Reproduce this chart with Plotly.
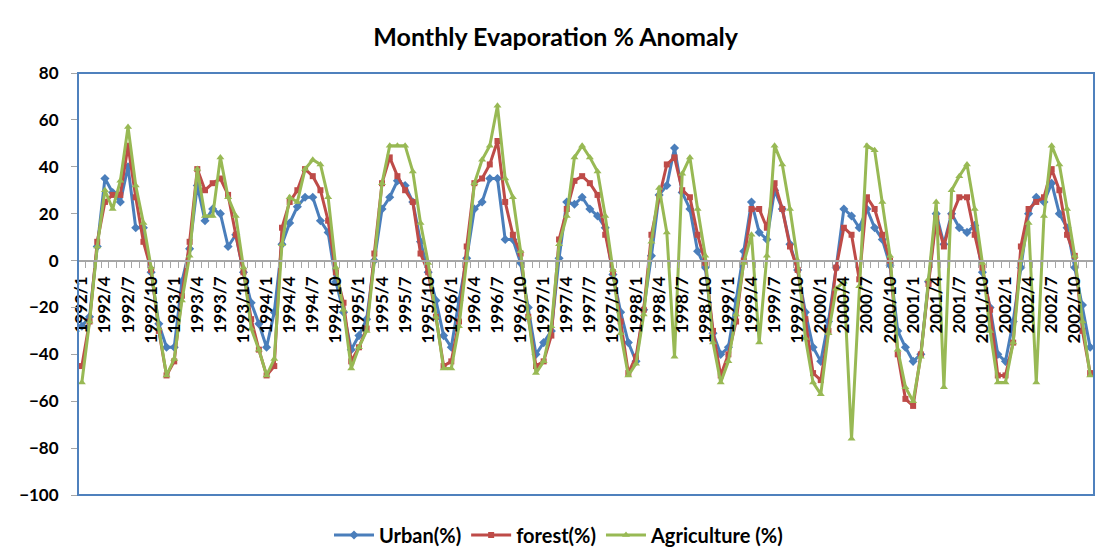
import plotly.graph_objects as go

years = list(range(1992, 2003))
months = [f"{y}/{m}" for y in years for m in range(1, 13)]

urban = [
    -28, -24, 6, 35, 29, 25, 40, 14, 14, -5, -27, -37,
    -37, -9, 5, 32, 17, 22, 20, 6, 11, -5, -18, -27,
    -37, -22, 7, 16, 23, 27, 27, 17, 12, -9, -22, -38,
    -32, -25, 0, 22, 27, 34, 32, 25, 8, -5, -17, -32,
    -37, -17, 1, 22, 25, 35, 35, 9, 9, -1, -20, -40,
    -35, -30, 1, 25, 24, 27, 22, 19, 14, -6, -22, -35,
    -43, -21, 2, 28, 32, 48, 29, 22, 4, -3, -31, -40,
    -37, -17, 4, 25, 12, 9, 30, 22, 7, -4, -22, -37,
    -43, -26, -3, 22, 19, 14, 22, 14, 9, -2, -30, -37,
    -43, -40, -9, 20, 7, 20, 14, 12, 15, -5, -20, -40,
    -43, -26, -3, 20, 27, 25, 33, 20, 14, -3, -19, -37,
]
forest = [
    -45, -26, 8, 25, 28, 28, 49, 27, 8, -4, -30, -49,
    -43, -15, 8, 39, 30, 33, 35, 28, 11, -5, -25, -38,
    -49, -45, 14, 25, 30, 39, 36, 30, 17, -5, -18, -43,
    -37, -29, 3, 33, 44, 36, 30, 25, 3, -5, -24, -45,
    -43, -26, 6, 33, 35, 41, 51, 25, 11, 3, -24, -45,
    -43, -32, 9, 22, 34, 36, 33, 28, 11, -5, -26, -48,
    -41, -21, 11, 27, 41, 44, 30, 27, 11, -1, -30, -49,
    -40, -26, 0, 22, 22, 14, 33, 22, 6, -4, -25, -48,
    -51, -30, -3, 14, 11, -8, 27, 22, 11, 0, -40, -59,
    -62, -40, -10, 18, 6, 19, 27, 27, 11, -3, -21, -49,
    -49, -35, 6, 22, 25, 27, 39, 30, 11, 2, -30, -48,
]
agriculture = [
    -52, -26, 6, 30, 22, 34, 57, 32, 16, -3, -29, -49,
    -42, -17, 2, 39, 19, 19, 44, 27, 19, -3, -29, -38,
    -49, -42, 7, 27, 25, 39, 43, 41, 27, -3, -21, -46,
    -37, -30, 0, 33, 49, 49, 49, 38, 16, -1, -24, -46,
    -46, -28, 0, 33, 43, 49, 66, 35, 27, 4, -24, -48,
    -43, -28, 7, 19, 44, 49, 44, 38, 19, -4, -31, -49,
    -44, -23, 8, 31, 12, -41, 37, 44, 22, 2, -35, -52,
    -43, -23, -1, 11, -35, 2, 49, 41, 22, 0, -33, -52,
    -57, -31, -12, -9, -76, -11, 49, 47, 25, 2, -38, -54,
    -60, -41, -8, 25, -54, 30, 36, 41, 22, -1, -30, -52,
    -52, -35, 0, 16, -52, 19, 49, 41, 22, 2, -26, -49,
]

y_ticks = list(range(-100, 81, 20))
series = [
    ("Urban(%)", urban, "#4A7EBB", "diamond", 7),
    ("forest(%)", forest, "#BE4B48", "square", 6),
    ("Agriculture (%)", agriculture, "#98B954", "triangle-up", 7),
]

FONT = "Lato, Open Sans, sans-serif"
idx = list(range(len(months)))

fig = go.Figure()
for name, vals, color, sym, size in series:
    fig.add_trace(go.Scatter(
        x=idx, y=vals, name=name, mode="lines+markers",
        line=dict(color=color, width=3),
        marker=dict(symbol=sym, size=size, color=color),
    ))

ymin, ymax = y_ticks[0], y_ticks[-1]
zero_pos = (0 - ymin) / (ymax - ymin)

fig.update_layout(
    width=1096, height=559,
    margin=dict(l=78, r=2, t=73, b=64, autoexpand=False),
    paper_bgcolor="white", plot_bgcolor="white",
    font=dict(family=FONT, color="black"),
    title=dict(text="<b>Monthly Evaporation % Anomaly</b>",
               x=0.507, xref="container", xanchor="center",
               y=1 - 37 / 559, yref="container", yanchor="middle",
               font=dict(size=25, family=FONT, color="black")),
    showlegend=True,
    legend=dict(orientation="h", x=559 / 1096, xref="container", xanchor="center",
                y=1 - 535 / 559, yref="container", yanchor="middle",
                font=dict(size=20, family=FONT, color="black", weight="bold"),
                itemwidth=40, traceorder="normal"),
    xaxis=dict(
        range=[-0.5, len(months) - 0.5],
        tickmode="array", tickvals=idx[::3], ticktext=months[::3],
        tickangle=-90,
        tickfont=dict(size=17, family=FONT, color="black", weight="bold"),
        ticks="outside", ticklen=8, tickcolor="rgba(0,0,0,0)",
        showline=True, linecolor="#A6A6A6", linewidth=2,
        anchor="free", position=zero_pos,
        showgrid=False, zeroline=False, automargin=False,
        minor=dict(tickmode="array",
                   tickvals=[i - 0.5 for i in range(len(months) + 1)],
                   ticks="outside", ticklen=6, tickcolor="#A6A6A6", tickwidth=1),
    ),
    yaxis=dict(
        range=[ymin, ymax], tickmode="array", tickvals=y_ticks,
        tickfont=dict(size=17, family=FONT, color="black", weight="bold"),
        ticks="outside", ticklen=6, tickcolor="#A6A6A6",
        showline=False, showgrid=False, zeroline=False, automargin=False,
        ticklabelstandoff=9,
    ),
)
fig.add_shape(type="rect", xref="paper", yref="paper", x0=0, y0=0, x1=1, y1=1,
              line=dict(color="#4F81BD", width=2), layer="above")

fig.write_html("out.html")
